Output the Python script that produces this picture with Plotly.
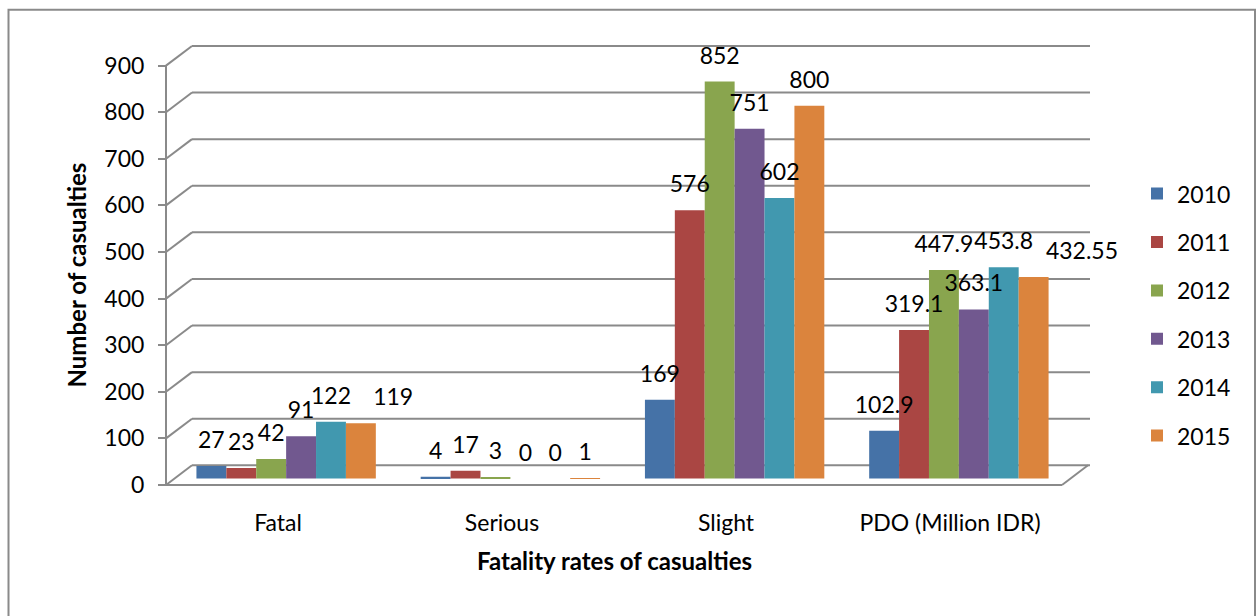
import plotly.graph_objects as go

categories = ["Fatal", "Serious", "Slight", "PDO (Million IDR)"]
years = ["2010", "2011", "2012", "2013", "2014", "2015"]
values = {
    "2010": [27, 4, 169, 102.9],
    "2011": [23, 17, 576, 319.1],
    "2012": [42, 3, 852, 447.9],
    "2013": [91, 0, 751, 363.1],
    "2014": [122, 0, 602, 453.8],
    "2015": [119, 1, 800, 432.55],
}
colors = ["#4572A7", "#AA4643", "#89A54E", "#71588F", "#4198AF", "#DB843D"]
y_ticks = [0, 100, 200, 300, 400, 500, 600, 700, 800, 900]

W, H = 1256, 616
FONT = "Lato"
GRID = "#8a8a8a"
FS = 23          # numbers / category text
FS_TITLE = 24    # bold axis titles

# geometry in page pixels (layout only)
y0_px, y900_px = 493.0, 66.7
k = (y0_px - y900_px) / 900.0          # px per unit
bar_base_px = 486.5                     # bars sit mid-depth on the floor
depth_dx, depth_dy = 26.0, 20.0
depth_units = depth_dy / k
y_lo, y_hi = -6.0, 900 + depth_units + 12
ax_x_px = 166.0
front_right_px = 1062.0


def px(x):
    return x / W


def py(y):
    return 1 - y / H


dom_y = [py(y0_px - y_lo * k), py(y0_px - y_hi * k)]
dom_y2 = [py(bar_base_px - y_lo * k), py(bar_base_px - y_hi * k)]

fig = go.Figure()
for yr, c in zip(years, colors):
    fig.add_trace(go.Bar(
        x=categories, y=values[yr], name=yr, marker_color=c,
        marker_line_width=0, offsetgroup=yr, legendgroup=yr,
        xaxis="x", yaxis="y2", hoverinfo="x+y+name",
    ))
# data labels drawn after all bars, so no bar covers them
for yr in years:
    vals = values[yr]
    if yr == "2015":
        # the source nudges crowded last-series labels to the right
        tpos = ["top right", "top center", "top center", "top right"]
    else:
        tpos = "top center"
    fig.add_trace(go.Scatter(
        x=categories, y=vals, mode="markers+text", text=[str(v) for v in vals],
        textposition=tpos, offsetgroup=yr, showlegend=False,
        marker=dict(size=18, opacity=0), cliponaxis=False,
        textfont=dict(family=FONT, size=FS, color="#000000"),
        xaxis="x", yaxis="y2", hoverinfo="skip",
    ))
# carrier for the front category axis labels
fig.add_trace(go.Scatter(x=[0, 1, 2, 3], y=[None] * 4, xaxis="x2", yaxis="y",
                         mode="markers", showlegend=False, hoverinfo="skip"))

shapes = []
for v in y_ticks:
    shapes.append(dict(type="line", xref="paper", yref="y",
                       x0=px(ax_x_px), y0=v, x1=px(ax_x_px + depth_dx), y1=v + depth_units,
                       line=dict(color=GRID, width=2), layer="below"))
    shapes.append(dict(type="line", xref="paper", yref="y",
                       x0=px(ax_x_px + depth_dx), y0=v + depth_units,
                       x1=px(front_right_px + depth_dx + 2), y1=v + depth_units,
                       line=dict(color=GRID, width=2), layer="below"))
shapes.append(dict(type="line", xref="paper", yref="y",
                   x0=px(ax_x_px), y0=0, x1=px(front_right_px), y1=0,
                   line=dict(color=GRID, width=2), layer="below"))
shapes.append(dict(type="line", xref="paper", yref="y",
                   x0=px(front_right_px), y0=0, x1=px(front_right_px + depth_dx), y1=depth_units,
                   line=dict(color=GRID, width=2), layer="below"))
shapes.append(dict(type="line", xref="paper", yref="y",
                   x0=px(ax_x_px), y0=0, x1=px(ax_x_px), y1=900,
                   line=dict(color=GRID, width=2), layer="below"))
# chart border (its bottom edge lies below the visible page, as in the source)
shapes.append(dict(type="rect", xref="paper", yref="paper",
                   x0=px(8.5), y0=-0.05, x1=px(1255), y1=py(10),
                   line=dict(color=GRID, width=2), fillcolor="rgba(0,0,0,0)"))

fig.update_layout(
    width=W, height=H,
    margin=dict(l=0, r=0, t=0, b=0),
    paper_bgcolor="white", plot_bgcolor="rgba(0,0,0,0)",
    barmode="group", bargap=0.2, bargroupgap=0.0,
    scattermode="group", scattergap=0.2,
    font=dict(family=FONT, size=FS, color="#000000"),
    shapes=shapes,
    showlegend=True,
    legend=dict(x=px(1137), y=py(175), xanchor="left", yanchor="top",
                font=dict(family=FONT, size=FS), tracegroupgap=15.5,
                traceorder="grouped", itemwidth=30, bgcolor="rgba(0,0,0,0)"),
    xaxis=dict(domain=[px(174), px(1071)], anchor="y2", type="category",
               showticklabels=False, showgrid=False, zeroline=False, showline=False,
               ticks=""),
    xaxis2=dict(domain=[px(ax_x_px), px(front_right_px)], anchor="y",
                range=[-0.5, 3.5], tickvals=[0, 1, 2, 3], ticktext=categories,
                showgrid=False, zeroline=False, showline=False,
                ticks="outside", ticklen=15, tickcolor="rgba(0,0,0,0)",
                tickfont=dict(family=FONT, size=FS, color="#000000")),
    yaxis=dict(domain=dom_y, range=[y_lo, y_hi], anchor="free", position=px(ax_x_px),
               tickvals=y_ticks, ticktext=[str(t) for t in y_ticks],
               ticks="outside", ticklen=8, tickwidth=2, tickcolor=GRID,
               ticklabelstandoff=9,
               showgrid=False, zeroline=False, showline=False,
               tickfont=dict(family=FONT, size=FS, color="#000000")),
    yaxis2=dict(domain=dom_y2, range=[y_lo, y_hi], anchor="free", position=px(ax_x_px),
                visible=False, showgrid=False, zeroline=False),
    annotations=[
        dict(text="<b>Number of casualties</b>", xref="paper", yref="paper",
             x=px(76), y=py(280), textangle=-90, showarrow=False,
             font=dict(family=FONT, size=FS_TITLE, color="#000000"),
             xanchor="center", yanchor="middle"),
        dict(text="<b>Fatality rates of casualties</b>", xref="paper", yref="paper",
             x=px(614), y=py(570), showarrow=False,
             font=dict(family=FONT, size=FS_TITLE, color="#000000"),
             xanchor="center", yanchor="middle"),
    ],
)

# remove the default page margin so the figure starts at the window's corner
fig.write_html("out.html", config={"displayModeBar": False},
               post_script="document.body.style.margin='0';"
                           "document.body.style.overflow='hidden';")
